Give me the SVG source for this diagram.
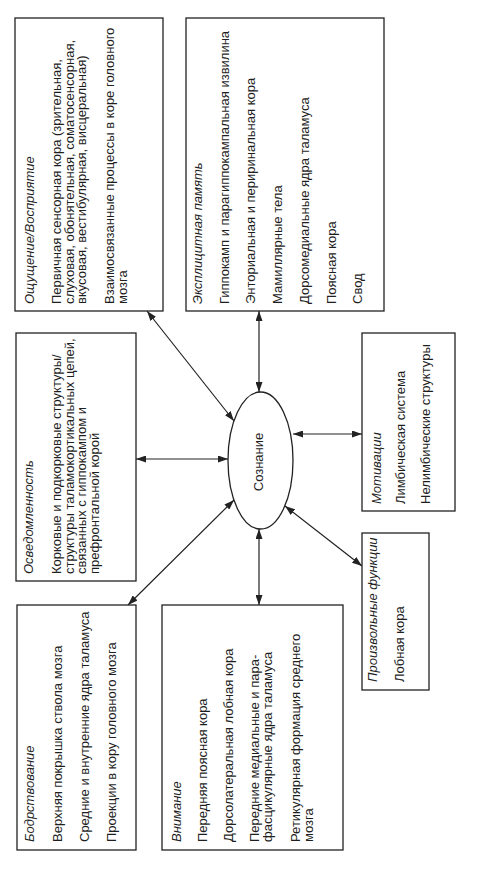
<svg xmlns="http://www.w3.org/2000/svg" width="490" height="869" viewBox="0 0 490 869">
<style>
  .box { fill: #ffffff; stroke: #222; stroke-width: 1.3; }
  .t { font-family: "Liberation Sans", Arial, sans-serif; font-size: 13px; fill: #1e1e1e; }
  .h { font-style: italic; }
  .c { stroke: #222; stroke-width: 1.2; fill: none; marker-start: url(#ah); marker-end: url(#ah); }
</style>
<defs>
  <marker id="ah" viewBox="0 0 10 7" refX="10" refY="3.5" markerWidth="10" markerHeight="7" markerUnits="userSpaceOnUse" orient="auto-start-reverse">
    <path d="M0,0 L10,3.5 L0,7 Z" fill="#222"/>
  </marker>
</defs>
<rect width="490" height="869" fill="#ffffff"/>

<g id="connectors">
  <line class="c" x1="147" y1="311" x2="234" y2="421"/>
  <line class="c" x1="259" y1="311" x2="259" y2="392"/>
  <line class="c" x1="136" y1="459" x2="228" y2="459"/>
  <line class="c" x1="128" y1="605" x2="234" y2="500"/>
  <line class="c" x1="259" y1="529" x2="259" y2="605"/>
  <line class="c" x1="293" y1="434" x2="362" y2="434"/>
  <line class="c" x1="285" y1="506" x2="362" y2="566"/>
</g>

<g id="node-soznanie">
  <ellipse cx="260.5" cy="460.5" rx="32.5" ry="68.5" fill="#ffffff" stroke="#222" stroke-width="1.3"/>
  <text class="t" transform="translate(262.5,462) rotate(-90)" text-anchor="middle">Сознание</text>
</g>

<g id="node-oshchushchenie">
  <rect class="box" x="15" y="18" width="148" height="293"/>
  <g transform="translate(0,304) rotate(-90)">
    <text class="t h" x="0" y="34">Ощущение/Восприятие</text>
    <text class="t" x="0" y="61">Первичная сенсорная кора (зрительная,</text>
    <text class="t" x="0" y="73.5">слуховая, обонятельная, соматосенсорная,</text>
    <text class="t" x="0" y="86">вкусовая, вестибулярная, висцеральная)</text>
    <text class="t" x="0" y="114">Взаимосвязанные процессы в коре головного</text>
    <text class="t" x="0" y="126.5">мозга</text>
  </g>
</g>

<g id="node-pamyat">
  <rect class="box" x="186" y="18" width="198" height="293"/>
  <g transform="translate(0,304) rotate(-90)">
    <text class="t h" x="0" y="202">Эксплицитная память</text>
    <text class="t" x="0" y="228.7">Гиппокамп и парагиппокампальная извилина</text>
    <text class="t" x="0" y="255.4">Энториальная и периринальная кора</text>
    <text class="t" x="0" y="282.1">Мамиллярные тела</text>
    <text class="t" x="0" y="308.8">Дорсомедиальные ядра таламуса</text>
    <text class="t" x="0" y="335.5">Поясная кора</text>
    <text class="t" x="0" y="362.2">Свод</text>
  </g>
</g>

<g id="node-osvedomlennost">
  <rect class="box" x="16" y="333" width="120" height="248"/>
  <g transform="translate(0,574) rotate(-90)">
    <text class="t h" x="0" y="33">Осведомленность</text>
    <text class="t" x="0" y="61">Корковые и подкорковые структуры/</text>
    <text class="t" x="0" y="73.5">структуры таламокортикальных цепей,</text>
    <text class="t" x="0" y="86">связанных с гиппокампом и</text>
    <text class="t" x="0" y="98.5">префронтальной корой</text>
  </g>
</g>

<g id="node-bodrstvovanie">
  <rect class="box" x="17" y="605" width="119" height="245"/>
  <g transform="translate(0,842) rotate(-90)">
    <text class="t h" x="0" y="34">Бодрствование</text>
    <text class="t" x="0" y="62">Верхняя покрышка ствола мозга</text>
    <text class="t" x="0" y="89">Средние и внутренние ядра таламуса</text>
    <text class="t" x="0" y="116">Проекции в кору головного мозга</text>
  </g>
</g>

<g id="node-vnimanie">
  <rect class="box" x="162" y="605" width="181" height="245"/>
  <g transform="translate(0,842) rotate(-90)">
    <text class="t h" x="0" y="181">Внимание</text>
    <text class="t" x="0" y="207">Передняя поясная кора</text>
    <text class="t" x="0" y="233">Дорсолатеральная лобная кора</text>
    <text class="t" x="0" y="259">Передние медиальные и пара-</text>
    <text class="t" x="0" y="271.5">фасцикулярные ядра таламуса</text>
    <text class="t" x="0" y="300">Ретикулярная формация среднего</text>
    <text class="t" x="0" y="312.5">мозга</text>
  </g>
</g>

<g id="node-motivatsii">
  <rect class="box" x="362" y="333" width="93" height="178"/>
  <g transform="translate(0,504) rotate(-90)">
    <text class="t h" x="0" y="381">Мотивации</text>
    <text class="t" x="0" y="405">Лимбическая система</text>
    <text class="t" x="0" y="430">Нелимбические структуры</text>
  </g>
</g>

<g id="node-proizvolnye">
  <rect class="box" x="362" y="533" width="67" height="157"/>
  <g transform="translate(0,682) rotate(-90)">
    <text class="t h" x="0" y="377">Произвольные функции</text>
    <text class="t" x="0" y="404">Лобная кора</text>
  </g>
</g>
</svg>
